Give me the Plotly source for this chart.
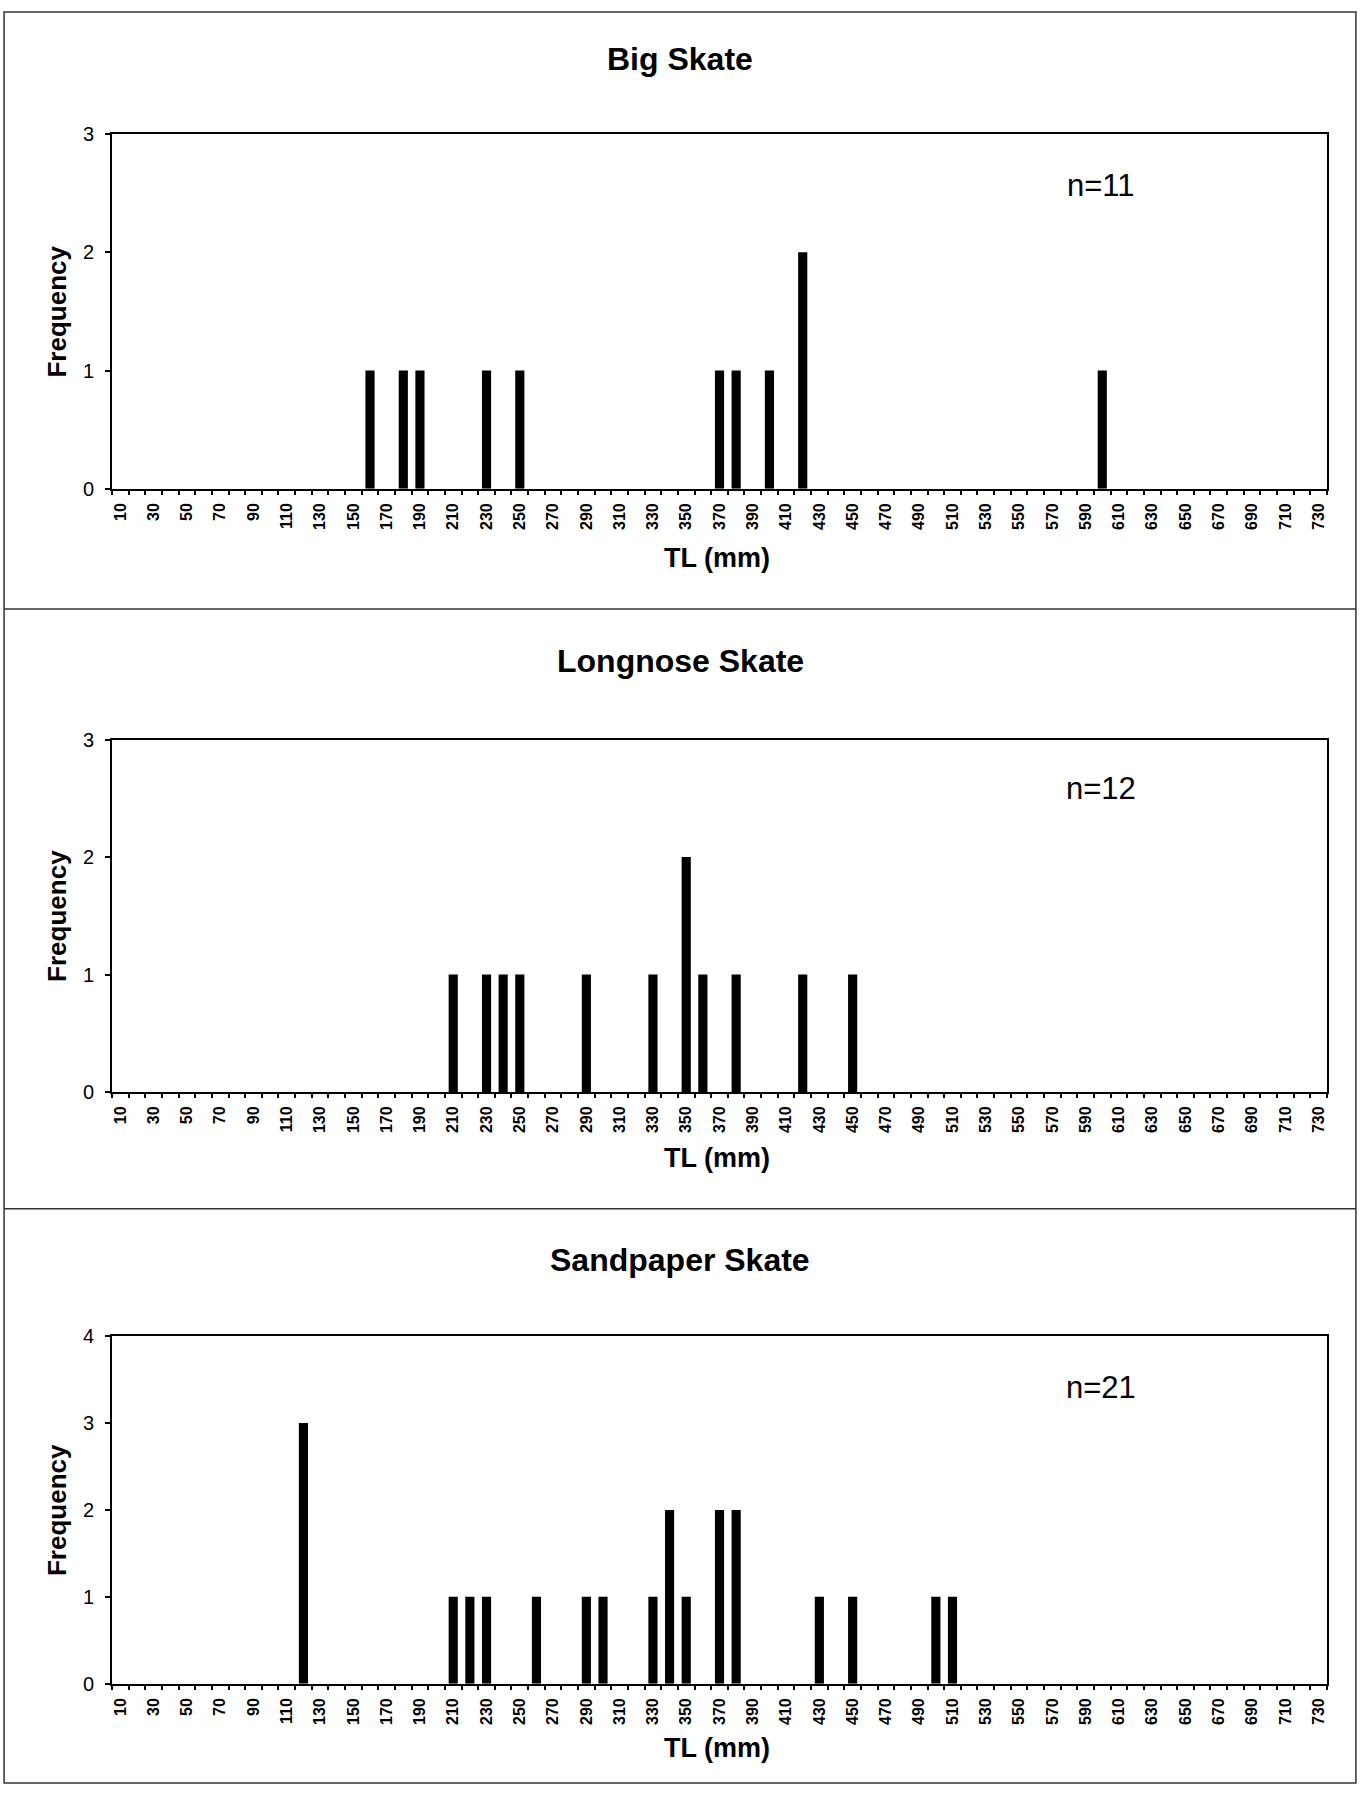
import plotly.graph_objects as go

# Total length (mm) classes and counts for each species
BIG_TL = [160, 180, 190, 230, 250, 370, 380, 400, 420, 600]
BIG_FREQ = [1, 1, 1, 1, 1, 1, 1, 1, 2, 1]

LONGNOSE_TL = [210, 230, 240, 250, 290, 330, 350, 360, 380, 420, 450]
LONGNOSE_FREQ = [1, 1, 1, 1, 1, 1, 2, 1, 1, 1, 1]

SANDPAPER_TL = [120, 210, 220, 230, 260, 290, 300, 330, 340, 350, 370, 380,
                430, 450, 500, 510]
SANDPAPER_FREQ = [3, 1, 1, 1, 1, 1, 1, 1, 2, 1, 2, 2, 1, 1, 1, 1]

SPECIES = ["Big Skate", "Longnose Skate", "Sandpaper Skate"]
SAMPLE_SIZES = ["n=11", "n=12", "n=21"]
Y_MAX = [3, 3, 4]

# x tick labels shown on every second 10-mm class
X_TICKVALS = list(range(10, 731, 20))
X_TICKTEXT = [str(v) for v in X_TICKVALS]

FONT = "Liberation Sans, Arial, Helvetica, sans-serif"

# vertical placement of each panel (paper coordinates)
plot_domains = [(0.7305, 0.9306), (0.3903, 0.5891), (0.0565, 0.2527)]
title_y = [0.9732, 0.6336, 0.2953]
xlabel_y = [0.6917, 0.3528, 0.0203]
nlabel_y = [0.9015, 0.5613, 0.2237]
separators_y = [0.6627, 0.3244]

fig = go.Figure()

series = [(BIG_TL, BIG_FREQ), (LONGNOSE_TL, LONGNOSE_FREQ),
          (SANDPAPER_TL, SANDPAPER_FREQ)]


def label(text, x, y, size, angle=0):
    return dict(text=text, x=x, y=y, xref="paper", yref="paper",
                xanchor="center", yanchor="middle", textangle=angle,
                showarrow=False,
                font=dict(family=FONT, size=size, color="black"))


layout_axes = {}
annotations = []
for i, ((tl, freq), name) in enumerate(zip(series, SPECIES)):
    idx = "" if i == 0 else str(i + 1)
    fig.add_trace(go.Bar(
        x=tl, y=freq, name=name, width=5.5,
        marker=dict(color="black", line=dict(width=0)),
        xaxis="x" + idx, yaxis="y" + idx, showlegend=False,
    ))
    layout_axes["xaxis" + idx] = dict(
        domain=[0.0824, 0.9757], anchor="y" + idx,
        range=[5, 735], tickmode="array",
        tickvals=X_TICKVALS, ticktext=X_TICKTEXT, tickangle=-90,
        ticks="", ticklabelstandoff=6, showgrid=False, zeroline=False,
        showline=True, mirror=True, linecolor="black", linewidth=2,
        tickfont=dict(family=FONT, size=16, color="black", weight="bold"),
        minor=dict(tick0=5, dtick=10, ticks="outside", ticklen=4,
                   tickwidth=1.5, tickcolor="black", showgrid=False),
    )
    layout_axes["yaxis" + idx] = dict(
        domain=list(plot_domains[i]), anchor="x" + idx,
        range=[0, Y_MAX[i]], dtick=1, tick0=0,
        ticks="outside", ticklen=5, tickwidth=1.5, tickcolor="black",
        ticklabelstandoff=7,
        showgrid=False, zeroline=False,
        showline=True, mirror=True, linecolor="black", linewidth=2,
        tickfont=dict(family=FONT, size=20, color="black"),
    )
    annotations.append(label("<b>%s</b>" % name, 0.5, title_y[i], 32))
    annotations.append(label("<b>TL (mm)</b>", 0.527, xlabel_y[i], 27))
    annotations.append(label("<b>Frequency</b>", 0.042,
                             sum(plot_domains[i]) / 2, 26, angle=-90))
    annotations.append(label(SAMPLE_SIZES[i], 0.8096, nlabel_y[i], 31))

# outer frame and panel separators
frame = dict(color="#333333", width=1.5)
shapes = [
    dict(type="rect", xref="paper", yref="paper", x0=0.003, x1=0.997,
         y0=0.0005, y1=0.9995, line=frame),
]
for sy in separators_y:
    shapes.append(dict(type="line", xref="paper", yref="paper",
                       x0=0.003, x1=0.997, y0=sy, y1=sy, line=frame))

fig.update_layout(
    width=1360, height=1795,
    margin=dict(l=0, r=0, t=0, b=0),
    paper_bgcolor="white", plot_bgcolor="white",
    bargap=0.45,
    annotations=annotations, shapes=shapes,
    font=dict(family=FONT, color="black"),
    **layout_axes,
)

fig.write_html("out.html")
